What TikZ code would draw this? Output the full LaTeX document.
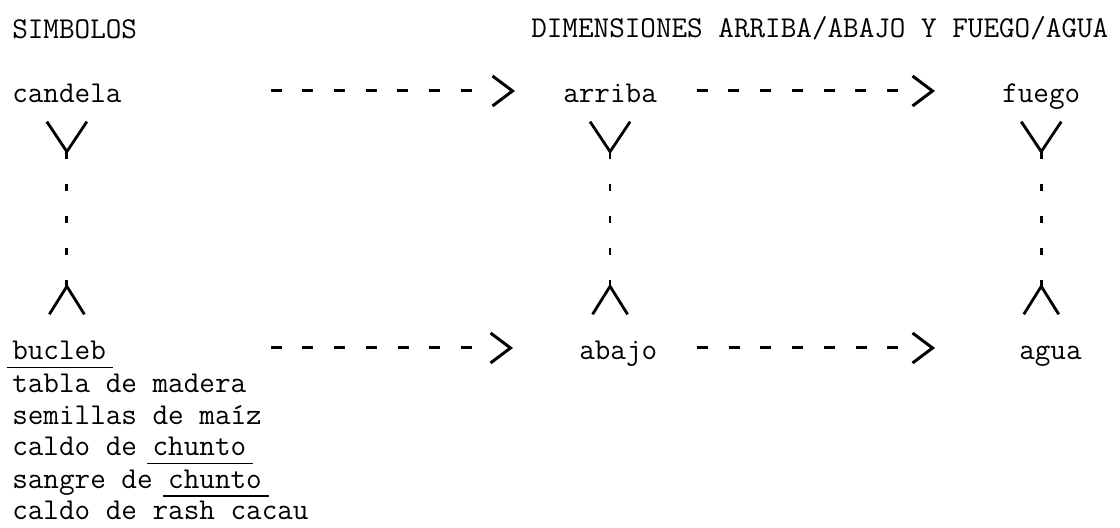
\documentclass[tikz,border=0pt]{standalone}
\usepackage{fontspec}
\usetikzlibrary{arrows.meta}

\newcommand{\subrayar}[1]{\sbox0{#1}\rlap{\kern-4pt\rule[-6pt]{\dimexpr\wd0+9pt\relax}{1.1pt}}\usebox0}

\tikzset{
  texto/.style={inner sep=0pt, anchor=base west, text height=0.6cm, text depth=0cm},
  flecha/.style={line width=0.075cm,
    dash pattern=on 0.275cm off 0.5175cm on 0.275cm off 0.5175cm on 0.275cm off 0.5175cm
      on 0.275cm off 0.5175cm on 0.275cm off 0.5175cm on 0.275cm off 0.5175cm on 0.275cm off 4cm,
    -{Straight Barb[length=0.5cm,width=0.75cm]}},
  vlinea/.style={line width=0.07cm, dash pattern=on 0.175cm off 0.625cm,
    {Straight Barb[reversed,length=0.75cm,width=1cm]}-{Straight Barb[reversed,length=0.7cm,width=0.875cm]},
    shorten <=0.425cm, shorten >=0.5cm}
}

\begin{document}
\begin{tikzpicture}
                        \useasboundingbox (0,0) rectangle (28.000000,13.200000);
                        {\ttfamily\fontsize{21.54}{25}\selectfont

                        % Marking label SIMBOLOS
                        \node (simbolos) [texto] at (0.300000,12.225000) {SIMBOLOS};%

                        % Marking label DIMENSIONES
                        \node (dimensiones) [texto] at (13.275000,12.250000) {DIMENSIONES ARRIBA/ABAJO Y FUEGO/AGUA};%

                        % Marking points of the upper row
                        \node (candela) [texto] at (0.300000,10.625000) {candela};%
                        \node (arriba) [texto] at (14.075000,10.625000) {arriba};%
                        \node (fuego) [texto] at (25.050000,10.625000) {fuego};%

                        % Marking points of the lower row
                        \node (bucleb) [texto] at (0.300000,4.200000) {\subrayar{bucleb}};%
                        \node (abajo) [texto] at (14.475000,4.200000) {abajo};%
                        \node (agua) [texto] at (25.475000,4.200000) {agua};%

                        % Marking list under bucleb
                        \node (tabla) [texto] at (0.300000,3.387500) {tabla de madera};%
                        \node (semillas) [texto] at (0.300000,2.582500) {semillas de maíz};%
                        \node (caldo) [texto] at (0.300000,1.800000) {caldo de \subrayar{chunto}};%
                        \node (sangre) [texto] at (0.300000,0.995000) {sangre de \subrayar{chunto}};%
                        \node (rash) [texto] at (0.300000,0.220000) {caldo de rash cacau};%

                        % Drawing line candela -- arriba
                        \draw [flecha, shorten <=3.720000cm, shorten >=1.200000cm] (candela.east) -- (arriba.west);%

                        % Drawing line arriba -- fuego
                        \draw [flecha, shorten <=0.990000cm, shorten >=1.675000cm] (arriba.east) -- (fuego.west);%

                        % Drawing line bucleb -- abajo
                        \draw [flecha, shorten <=4.115000cm, shorten >=1.650000cm] (bucleb.east) -- (abajo.west);%

                        % Drawing line abajo -- agua
                        \draw [flecha, shorten <=0.987500cm, shorten >=2.100000cm] (abajo.east) -- (agua.west);%

                        % Drawing vertical lines
                        \draw [vlinea] (candela.south) -- (candela.south |- bucleb.north);%
                        \draw [vlinea] (arriba.south) -- (arriba.south |- abajo.north);%
                        \draw [vlinea] (fuego.south) -- (fuego.south |- agua.north);%
                        }
                    \end{tikzpicture}
\end{document}
